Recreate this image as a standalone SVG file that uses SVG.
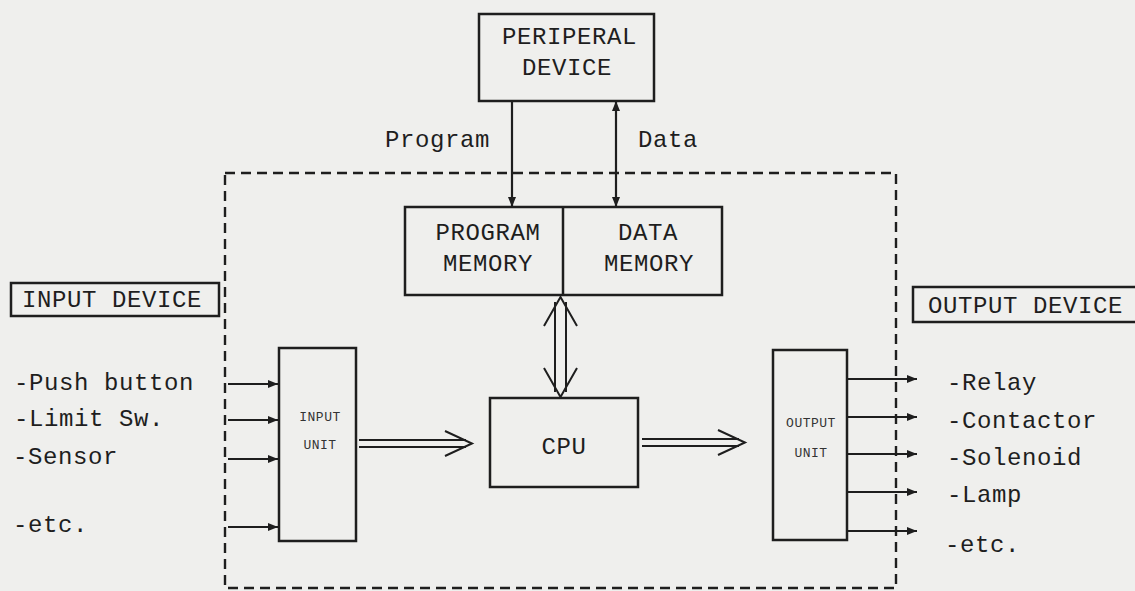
<svg xmlns="http://www.w3.org/2000/svg" width="1135" height="591" viewBox="0 0 1135 591">
<style>
.t{font-family:"Liberation Mono","Courier New",monospace;font-size:24px;letter-spacing:0.6px;fill:#1e1e1e}
.s{font-family:"Liberation Mono","Courier New",monospace;font-size:13px;letter-spacing:0.5px;fill:#333}
.b{fill:none;stroke:#1e1e1e;stroke-width:2.5}
.l{fill:none;stroke:#1e1e1e;stroke-width:2.2}
.d{fill:none;stroke:#1e1e1e;stroke-width:2.4;stroke-dasharray:10 6}
.dbl{fill:none;stroke:#1e1e1e;stroke-width:2;stroke-linejoin:miter}
</style>
<defs>
<marker id="ah" viewBox="0 0 10 8" refX="10" refY="4" markerWidth="10" markerHeight="8" markerUnits="userSpaceOnUse" orient="auto-start-reverse">
<path d="M0,0 L10,4 L0,8 z" fill="#1e1e1e"/>
</marker>
</defs>
<rect width="1135" height="591" fill="#efefed"/>

<g id="system-boundary">
<path class="d" d="M225,173 H896 V588 H225 Z"/>
</g>

<g id="peripheral-device">
<rect class="b" x="479" y="14" width="175" height="87"/>
<text class="t" x="502" y="44">PERIPERAL</text>
<text class="t" x="522" y="75">DEVICE</text>
</g>

<g id="memory">
<rect class="b" x="405" y="207" width="317" height="88"/>
<line class="b" x1="563" y1="207" x2="563" y2="295"/>
<g id="program-memory">
<text class="t" x="488" y="240" text-anchor="middle">PROGRAM</text>
<text class="t" x="488" y="271" text-anchor="middle">MEMORY</text>
</g>
<g id="data-memory">
<text class="t" x="648" y="240" text-anchor="middle">DATA</text>
<text class="t" x="649" y="271" text-anchor="middle">MEMORY</text>
</g>
</g>

<g id="cpu">
<rect class="b" x="490" y="398" width="148" height="89"/>
<text class="t" x="564" y="454" text-anchor="middle">CPU</text>
</g>

<g id="input-unit">
<rect class="b" x="279" y="348" width="77" height="193"/>
<text class="s" x="320" y="421" text-anchor="middle">INPUT</text>
<text class="s" x="320" y="449" text-anchor="middle">UNIT</text>
</g>

<g id="output-unit">
<rect class="b" x="773" y="350" width="74" height="190"/>
<text class="s" x="811" y="427" text-anchor="middle">OUTPUT</text>
<text class="s" x="811" y="457" text-anchor="middle">UNIT</text>
</g>

<g id="input-device">
<rect class="b" x="11" y="283" width="208" height="33"/>
<text class="t" x="22" y="307">INPUT DEVICE</text>
<text class="t" x="14" y="390">-Push button</text>
<text class="t" x="14" y="426">-Limit Sw.</text>
<text class="t" x="13" y="464">-Sensor</text>
<text class="t" x="13" y="532">-etc.</text>
</g>

<g id="output-device">
<rect class="b" x="913" y="287" width="225" height="35"/>
<text class="t" x="928" y="313">OUTPUT DEVICE</text>
<text class="t" x="947" y="390">-Relay</text>
<text class="t" x="947" y="428">-Contactor</text>
<text class="t" x="947" y="465">-Solenoid</text>
<text class="t" x="947" y="502">-Lamp</text>
<text class="t" x="945" y="552">-etc.</text>
</g>

<g id="labels">
<text class="t" x="385" y="147">Program</text>
<text class="t" x="638" y="147">Data</text>
</g>

<g id="connectors">
<line class="l" x1="512" y1="101" x2="512" y2="207" marker-end="url(#ah)"/>
<line class="l" x1="616" y1="101" x2="616" y2="207" marker-start="url(#ah)" marker-end="url(#ah)"/>
<line class="l" x1="228" y1="384" x2="278" y2="384" marker-end="url(#ah)"/>
<line class="l" x1="228" y1="420" x2="278" y2="420" marker-end="url(#ah)"/>
<line class="l" x1="228" y1="459" x2="278" y2="459" marker-end="url(#ah)"/>
<line class="l" x1="228" y1="527" x2="278" y2="527" marker-end="url(#ah)"/>
<line class="l" x1="847" y1="379" x2="917" y2="379" marker-end="url(#ah)"/>
<line class="l" x1="847" y1="417" x2="917" y2="417" marker-end="url(#ah)"/>
<line class="l" x1="847" y1="454" x2="917" y2="454" marker-end="url(#ah)"/>
<line class="l" x1="847" y1="492" x2="917" y2="492" marker-end="url(#ah)"/>
<line class="l" x1="847" y1="531" x2="917" y2="531" marker-end="url(#ah)"/>
<!-- double arrow input unit to CPU -->
<path class="dbl" d="M359,440 H466 M359,447 H466 M445,431 L472,443.5 L445,456"/>
<!-- double arrow CPU to output unit -->
<path class="dbl" d="M642,439 H739 M642,446 H739 M718,430 L745,442.5 L718,455"/>
<!-- bidirectional double arrow memory to CPU -->
<path class="dbl" d="M555,302 V392 M566,302 V392 M544,326 L560.5,297 L577,326 M544,368 L560.5,397 L577,368"/>
</g>
</svg>
